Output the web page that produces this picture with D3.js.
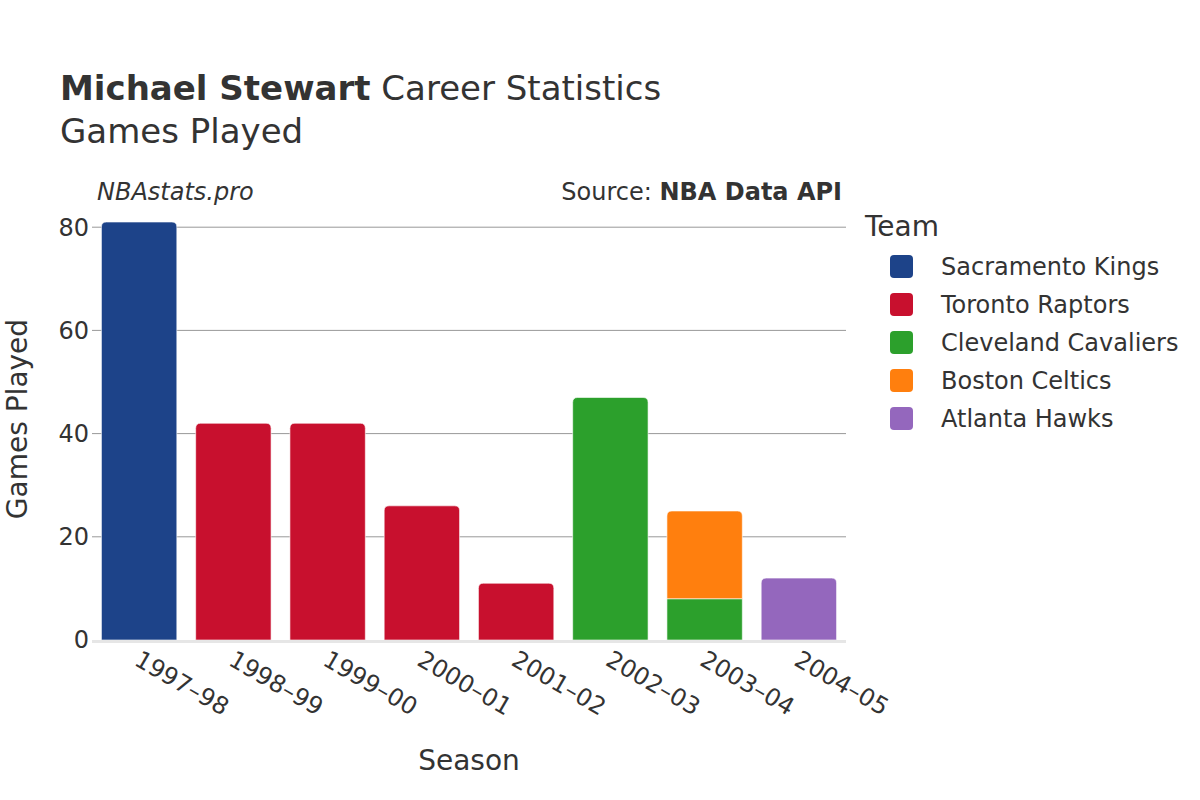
<!DOCTYPE html>
<html><head><meta charset="utf-8">
<script src="https://cdn.jsdelivr.net/npm/d3@7"></script>
<style>body{margin:0;background:#fff;font-family:"DejaVu Sans",sans-serif;}</style>
</head><body>
<svg id="c" width="1200" height="800"></svg>
<script>
const seasons = ["1997–98","1998–99","1999–00","2000–01","2001–02","2002–03","2003–04","2004–05"];
const teams = ["Sacramento Kings","Toronto Raptors","Cleveland Cavaliers","Boston Celtics","Atlanta Hawks"];
const teamColors = ["#1d4389","#c8102e","#2ca02c","#ff7f0e","#9467bd"];
// games per season per team (stack order as listed)
const gamesKings     = [81,0,0,0,0,0,0,0];
const gamesRaptors   = [0,42,42,26,11,0,0,0];
const gamesCavaliers = [0,0,0,0,0,47,8,0];
const gamesCeltics   = [0,0,0,0,0,0,17,0];
const gamesHawks     = [0,0,0,0,0,0,0,12];
const yTicks = [0,20,40,60,80];

const series = [gamesKings,gamesRaptors,gamesCavaliers,gamesCeltics,gamesHawks];
const svg = d3.select("#c");
const M = {l:92, r:846, t:205, b:640};
const x = d3.scaleBand().domain(seasons).range([M.l,M.r]).paddingInner(0.2).paddingOuter(0.1);
const y = d3.scaleLinear().domain([0,84.3]).range([M.b,M.t]);
const txt = "#333";

// gridlines
svg.append("g").selectAll("line").data(yTicks.filter(d=>d>0)).join("line")
  .attr("x1",M.l).attr("x2",M.r).attr("y1",d=>y(d)).attr("y2",d=>y(d))
  .attr("stroke","#999").attr("stroke-width",1);
// y tick labels
svg.append("g").selectAll("text").data(yTicks).join("text")
  .attr("x",M.l-3).attr("y",d=>y(d)).attr("dy","0.35em").attr("text-anchor","end")
  .attr("font-size",24).attr("fill",txt).text(d=>d);

// stacked bars
const r = 5;
seasons.forEach((s,i)=>{
  let base = 0;
  const segs = [];
  series.forEach((arr,k)=>{ if(arr[i]>0){ segs.push({k, y0:base, y1:base+arr[i]}); base+=arr[i]; } });
  segs.forEach((sg,j)=>{
    const x0 = x(s), w = x.bandwidth();
    const top = y(sg.y1), bot = y(sg.y0);
    const last = j===segs.length-1;
    let p;
    if(last){
      p = `M${x0},${bot} L${x0},${top+r} Q${x0},${top} ${x0+r},${top} L${x0+w-r},${top} Q${x0+w},${top} ${x0+w},${top+r} L${x0+w},${bot} Z`;
    } else {
      p = `M${x0},${bot} L${x0},${top} L${x0+w},${top} L${x0+w},${bot} Z`;
    }
    svg.append("path").attr("d",p).attr("fill",teamColors[sg.k])
      .attr("stroke","#fff").attr("stroke-width",0.6);
  });
});

// zero line
svg.append("line").attr("x1",M.l).attr("x2",M.r).attr("y1",y(0)+1.5).attr("y2",y(0)+1.5)
  .attr("stroke","#e6e6e6").attr("stroke-width",3);

// x tick labels
svg.append("g").selectAll("text").data(seasons).join("text")
  .attr("transform",d=>`translate(${x(d)+x.bandwidth()/2-2},${M.b+17}) rotate(30)`)
  .attr("dy","0.35em").attr("text-anchor","start")
  .attr("font-size",24).attr("fill",txt).text(d=>d);

// titles
const t = svg.append("text").attr("x",60).attr("y",100).attr("font-size",34).attr("fill",txt);
t.append("tspan").attr("font-weight","bold").text("Michael Stewart");
t.append("tspan").text(" Career Statistics");
svg.append("text").attr("x",60).attr("y",143).attr("font-size",34).attr("fill",txt).text("Games Played");
svg.append("text").attr("x",97).attr("y",200).attr("font-size",24).attr("font-style","italic").attr("fill",txt).text("NBAstats.pro");
const src = svg.append("text").attr("x",842).attr("y",200).attr("text-anchor","end").attr("font-size",24).attr("fill",txt);
src.append("tspan").text("Source: ");
src.append("tspan").attr("font-weight","bold").text("NBA Data API");

// axis titles
svg.append("text").attr("x",469).attr("y",770).attr("text-anchor","middle").attr("font-size",28).attr("fill",txt).text("Season");
svg.append("text").attr("transform",`translate(27,419) rotate(-90)`).attr("text-anchor","middle").attr("font-size",28).attr("fill",txt).text("Games Played");

// legend
svg.append("text").attr("x",865).attr("y",236).attr("font-size",28).attr("fill",txt).text("Team");
const lg = svg.append("g").selectAll("g").data(teams).join("g")
  .attr("transform",(d,i)=>`translate(0,${266+i*38})`);
lg.append("rect").attr("x",890).attr("y",-11).attr("width",23).attr("height",23).attr("rx",4)
  .attr("fill",(d,i)=>teamColors[i]);
lg.append("text").attr("x",941).attr("y",1).attr("dy","0.35em").attr("font-size",24).attr("fill",txt).text(d=>d);
</script>
</body></html>
